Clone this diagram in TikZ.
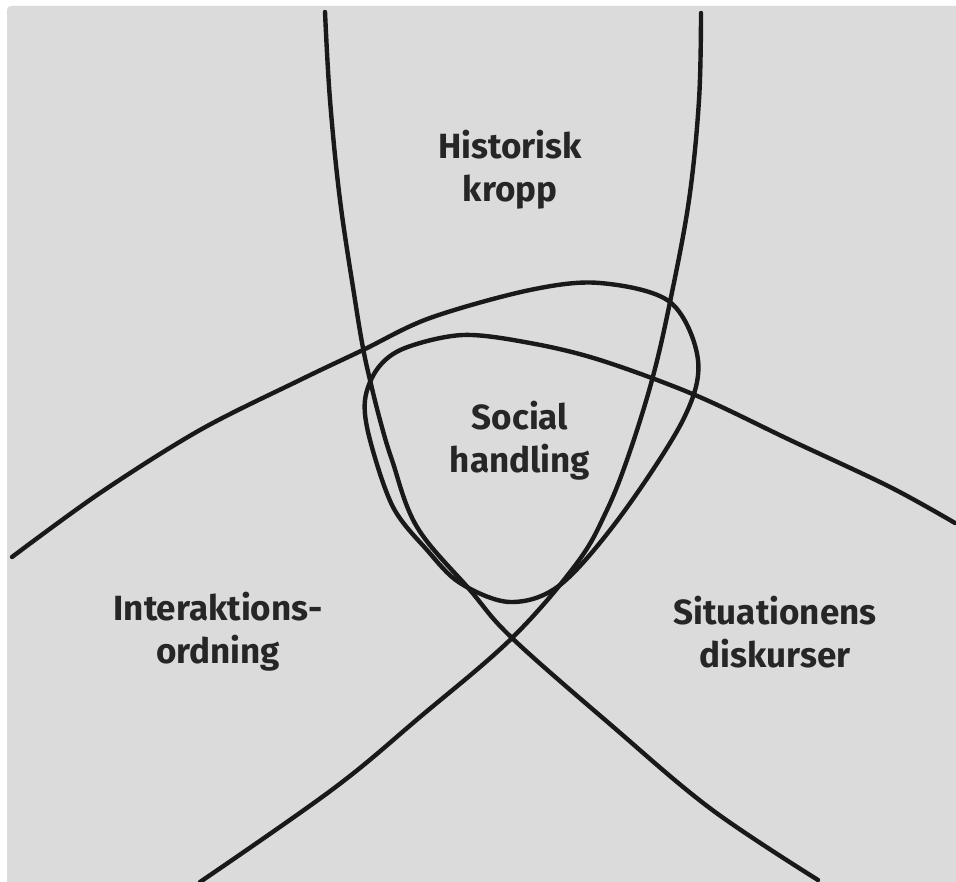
\documentclass[tikz,border=0pt]{standalone}
\usepackage{fontspec}
\setmainfont{Fira Sans}
\begin{document}
\begin{tikzpicture}[x=1pt,y=-1pt,
  curve/.style={line width=4.4pt, color=black!90, line cap=round, line join=round},
  lbl/.style={font=\fontsize{35}{43}\selectfont\bfseries, text=black!85, align=center, inner sep=0pt}]
\useasboundingbox (0,0) rectangle (956,882);
\fill[white] (0,0) rectangle (956,882);
\fill[gray!28, rounded corners=4pt] (7,6) rectangle (960,890);
% curve 1: top-left to bottom-right
\draw[curve] plot[smooth, tension=0.6] coordinates {(325,12) (330,100) (340,200) (355,300) (363,348) (370,380) (380,420) (392,460) (417,527) (470,590) (512,638) (611,725) (711,809) (818,880)};
% curve 2: top-right to bottom-left
\draw[curve] plot[smooth, tension=0.6] coordinates {(701,13) (699,100) (689,200) (670,302) (652,380) (628,457) (606,512) (577,563) (512,638) (420,717) (333,789) (200,882)};
% curve 3: arc with loop
\draw[curve] plot[smooth, tension=0.55] coordinates {(12,557) (100,493) (200,430) (300,380) (363,350) (430,318) (530,290) (600,283) (670,302) (698,360) (683,420) (620,517) (560,585) (510,602) (460,583) (427,550) (393,507) (370,440) (365,400) (378,368) (405,348) (463,335) (530,343) (600,360) (695,395) (790,440) (890,487) (955,523)};
\node[lbl] (hist) at (510,170) {Historisk\\kropp};
\node[lbl] (soc) at (520,441) {Social\\handling};
\node[lbl] (inter) at (218,632) {Interaktions-\\ordning};
\node[lbl] (sit) at (775,632) {Situationens\\diskurser};
\end{tikzpicture}
\end{document}
